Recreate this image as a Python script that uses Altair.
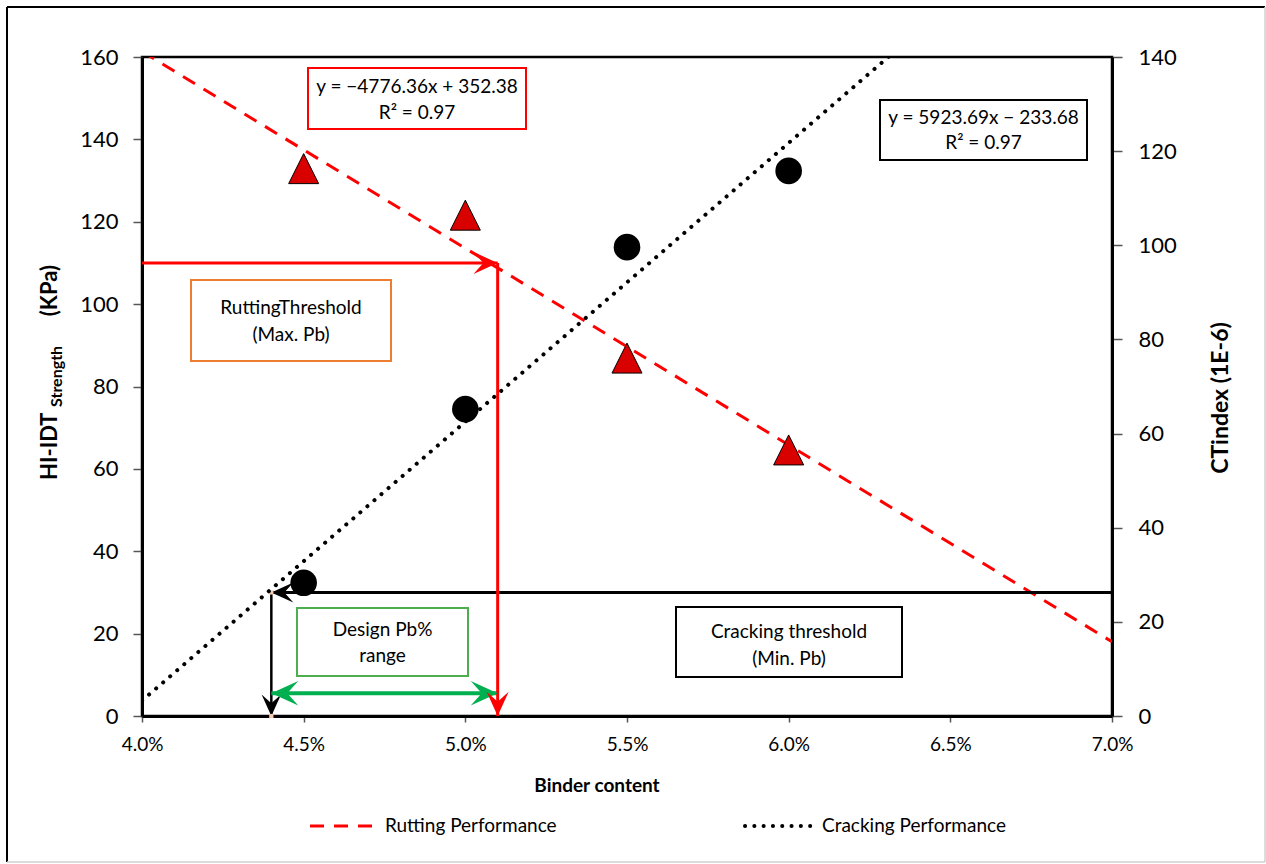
import altair as alt
import pandas as pd

# Measured mixes
binder = [0.045, 0.050, 0.055, 0.060]
hi_idt = [132.9, 121.6, 86.9, 64.6]      # HI-IDT strength, KPa (left axis)
ct_index = [28.3, 65.2, 99.6, 115.8]     # CTindex, 1E-6 (right axis)

# Linear fits as reported on the chart: (slope, intercept)
rut_fit = (-4776.36, 352.38)
crack_fit = (5923.69, -233.68)
fit_span = [0.04, 0.07]

# Design window
max_pb = 0.051
min_pb = 0.044
rut_limit = 110
crack_limit = 30
window_level = 5.5

x_ticks = [0.04, 0.045, 0.05, 0.055, 0.06, 0.065, 0.07]
left_ticks = [0, 20, 40, 60, 80, 100, 120, 140, 160]
right_ticks = [0, 20, 40, 60, 80, 100, 120, 140]

# Layout (plot area size and its offset inside the page)
W, H = 970, 659
OX, OY = 142, 57
FONT = "Lato"
RED = "#ff0000"
MARK_RED = "#d90000"
GREEN = "#00b050"
ORANGE = "#ed7d31"
BOX_GREEN = "#4cae4c"
DASH = [14, 10]
DOTS = [0.1, 9.2]

# Arrowhead outlines, tip at the anchor point
HEAD_DOWN = "M0,0L-1,-2.2L0,-1.3L1,-2.2Z"
HEAD_RIGHT = "M0,0L-2.2,-1L-1.3,0L-2.2,1Z"
HEAD_LEFT = "M0,0L2.2,-1L1.3,0L2.2,1Z"
TRIANGLE = "M0,-1L1,1L-1,1Z"

x_axis = alt.Axis(values=x_ticks, format=".1%", title=None, labelFont=FONT,
                  labelFontSize=19, labelColor="black", tickSize=6,
                  tickColor="#555", tickWidth=1.5, domainColor="black",
                  domainWidth=3, labelPadding=13, labelFlush=False, grid=False)
left_axis = alt.Axis(orient="left", values=left_ticks, title=None, labelFont=FONT,
                     labelFontSize=22, labelColor="black", tickSize=9,
                     tickColor="#555", tickWidth=1.5, domainColor="black",
                     domainWidth=3, labelPadding=15, grid=False)
right_axis = alt.Axis(orient="right", values=right_ticks, title=None, labelFont=FONT,
                      labelFontSize=22, labelColor="black", tickSize=10,
                      tickColor="#555", tickWidth=1.5, domainColor="black",
                      domainWidth=3, labelPadding=16, grid=False)

x_scale = alt.Scale(domain=[0.04, 0.07], nice=False, zero=False)
yl_scale = alt.Scale(domain=[0, 160], nice=False)
yr_scale = alt.Scale(domain=[0, 140], nice=False)


def xe(field="x"):
    return alt.X(f"{field}:Q", scale=x_scale, axis=x_axis)


def yl(field="y"):
    return alt.Y(f"{field}:Q", scale=yl_scale, axis=left_axis)


def yr(field="y"):
    return alt.Y(f"{field}:Q", scale=yr_scale, axis=right_axis)


# ---- left-axis layers: rutting ----
rut_line_df = pd.DataFrame({"x": fit_span,
                            "y": [rut_fit[0] * v + rut_fit[1] for v in fit_span]})
rut_line = alt.Chart(rut_line_df).mark_line(
    color=RED, strokeWidth=3, strokeDash=DASH, clip=True
).encode(x=xe(), y=yl())

guides_df = pd.DataFrame({
    "x":  [min_pb, min_pb, min_pb, 0.04, max_pb],
    "x2": [0.07, min_pb, max_pb, max_pb, max_pb],
    "y":  [crack_limit, crack_limit, window_level, rut_limit, rut_limit],
    "y2": [crack_limit, 0, window_level, rut_limit, 0],
    "color": ["black", "black", GREEN, RED, RED],
    "w": [3, 2.5, 4, 3, 3],
})
guides = alt.Chart(guides_df).mark_rule().encode(
    x=xe(), x2="x2:Q", y=yl(), y2="y2:Q",
    color=alt.Color("color:N", scale=None),
    strokeWidth=alt.StrokeWidth("w:Q", scale=None),
)

heads_df = pd.DataFrame({
    "x": [min_pb, min_pb, min_pb, max_pb, max_pb, max_pb],
    "y": [crack_limit, 0, window_level, window_level, rut_limit, 0],
    "shape": [HEAD_LEFT, HEAD_DOWN, HEAD_LEFT, HEAD_RIGHT, HEAD_RIGHT, HEAD_DOWN],
    "color": ["black", "black", GREEN, GREEN, RED, RED],
    "size": [400, 380, 600, 600, 484, 484],
})
heads = alt.Chart(heads_df).mark_point(filled=True, opacity=1, strokeWidth=0).encode(
    x=xe(), y=yl(),
    shape=alt.Shape("shape:N", scale=None),
    color=alt.Color("color:N", scale=None),
    size=alt.Size("size:Q", scale=None),
)

corner_df = pd.DataFrame({"x": [min_pb, min_pb], "y": [crack_limit, 0]})
corners = alt.Chart(corner_df).mark_square(
    color="#f8cbad", size=18, opacity=1
).encode(x=xe(), y=yl())

rut_df = pd.DataFrame({"x": binder, "y": hi_idt})
rut_pts = alt.Chart(rut_df).mark_point(
    shape=TRIANGLE, filled=True, fill=MARK_RED, stroke="black",
    strokeWidth=1, size=900, opacity=1
).encode(x=xe(), y=yl())

left_group = alt.layer(rut_line, guides, heads, corners, rut_pts)

# ---- right-axis layers: cracking ----
crack_line_df = pd.DataFrame({"x": fit_span,
                              "y": [crack_fit[0] * v + crack_fit[1] for v in fit_span]})
crack_line = alt.Chart(crack_line_df).mark_line(
    color="black", strokeWidth=4, strokeDash=DOTS, strokeCap="round", clip=True
).encode(x=xe(), y=yr())

crack_df = pd.DataFrame({"x": binder, "y": ct_index})
crack_pts = alt.Chart(crack_df).mark_circle(
    color="black", size=707, opacity=1
).encode(x=xe(), y=yr())

right_group = alt.layer(crack_line, crack_pts)

# ---- text boxes, titles, legend, frame (page pixels) ----
one = pd.DataFrame({"_": [0]})


def rel_x(v):
    return v - OX


def rel_y(v):
    return v - OY


def box(x0, x1, y0, y1, stroke, lines, line_y, size=19):
    rect = alt.Chart(one).mark_rect(fill="white", stroke=stroke, strokeWidth=2).encode(
        x=alt.value(rel_x(x0)), x2=alt.value(rel_x(x1)),
        y=alt.value(rel_y(y0)), y2=alt.value(rel_y(y1)),
    )
    parts = [rect]
    cx = (x0 + x1) / 2
    for txt, ty in zip(lines, line_y):
        parts.append(alt.Chart(one).mark_text(
            text=txt, font=FONT, fontSize=size, color="black",
            align="center", baseline="middle"
        ).encode(x=alt.value(rel_x(cx)), y=alt.value(rel_y(ty))))
    return alt.layer(*parts)


def label(txt, x, y, size=19, bold=False, align="left", angle=0, baseline="middle"):
    props = dict(text=txt, font=FONT, fontSize=size, color="black",
                 align=align, baseline=baseline,
                 fontWeight="bold" if bold else "normal")
    if angle:
        props["angle"] = angle
    return alt.Chart(one).mark_text(**props).encode(
        x=alt.value(rel_x(x)), y=alt.value(rel_y(y)))


def segment(x0, x1, y0, y1, color, width, dash=None, cap="butt"):
    props = dict(color=color, strokeWidth=width, strokeCap=cap)
    if dash:
        props["strokeDash"] = dash
    return alt.Chart(one).mark_rule(**props).encode(
        x=alt.value(rel_x(x0)), x2=alt.value(rel_x(x1)),
        y=alt.value(rel_y(y0)), y2=alt.value(rel_y(y1)))


rut_eq = f"y = \u2212{abs(rut_fit[0]):.2f}x + {rut_fit[1]:.2f}"
crack_eq = f"y = {crack_fit[0]:.2f}x \u2212 {abs(crack_fit[1]):.2f}"

decor = alt.layer(
    box(308, 526, 68, 129, RED, [rut_eq, "R\u00b2 = 0.97"], [87, 113]),
    box(880, 1087, 100, 160, "black", [crack_eq, "R\u00b2 = 0.97"], [118, 143]),
    box(191, 391, 280, 361, ORANGE, ["RuttingThreshold", "(Max. Pb)"], [308, 335]),
    box(297, 468, 608, 676, BOX_GREEN, ["Design Pb%", "range"], [630, 656]),
    box(676, 902, 607, 677, "black", ["Cracking threshold", "(Min. Pb)"], [632, 659]),
    # axis titles
    label("Binder content", 597, 786, size=19, bold=True, align="center"),
    label("CTindex (1E-6)", 1221, 398, size=23, bold=True, align="center", angle=270),
    label("HI-IDT", 57, 480, size=22, bold=True, align="left", angle=270,
          baseline="alphabetic"),
    label("Strength", 62, 407, size=16, bold=True, align="left", angle=270,
          baseline="alphabetic"),
    label("(KPa)", 57, 265, size=22, bold=True, align="right", angle=270,
          baseline="alphabetic"),
    # legend
    segment(310, 372, 826, 826, RED, 3, dash=DASH),
    label("Rutting Performance", 385, 826, size=19),
    segment(745, 816, 826, 826, "black", 4, dash=DOTS, cap="round"),
    label("Cracking Performance", 822, 826, size=19),
    # outer frame
    segment(7, 7, 7, 862, "black", 2),
    segment(7, 1265, 7, 7, "black", 2),
    segment(1265, 1265, 7, 862, "#d0d0d0", 1.5),
    segment(7, 1265, 862, 862, "#d0d0d0", 1.5),
)

chart = alt.layer(left_group, right_group, decor).resolve_scale(
    y="independent"
).properties(
    width=W, height=H,
    padding={"left": OX, "top": OY, "right": 1266 - OX - W, "bottom": 864 - OY - H},
    autosize=alt.AutoSizeParams(type="none"),
    background="white",
).configure_view(stroke="black", strokeWidth=2.5)

chart.save("out.html", embed_options={"renderer": "svg", "actions": False})
